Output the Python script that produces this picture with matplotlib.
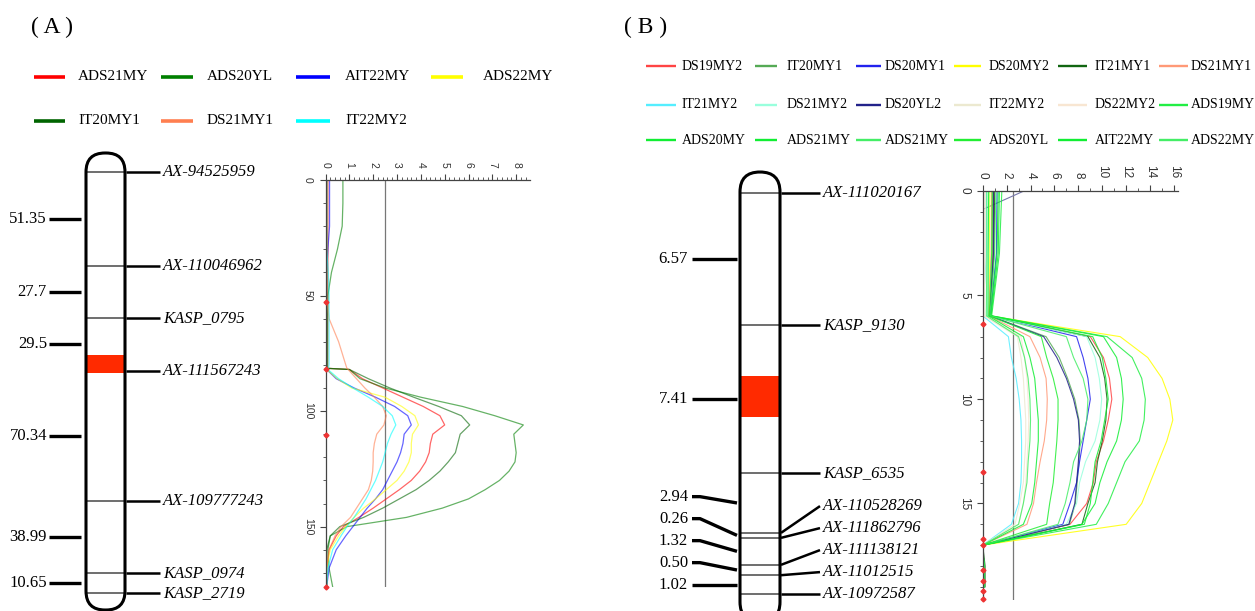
import matplotlib
matplotlib.use("Agg")
import matplotlib.pyplot as plt
from matplotlib.patches import FancyBboxPatch, Rectangle
from matplotlib.ticker import MultipleLocator

# ======================= DATA =======================
# ---- Panel A : linkage map ----
A_markers = ["AX-94525959", "AX-110046962", "KASP_0795", "AX-111567243",
             "AX-109777243", "KASP_0974", "KASP_2719"]
A_marker_pos = [4.2, 24.7, 36.1, 47.7, 76.1, 91.9, 96.3]      # relative position along group (0-100)
A_intervals = ["51.35", "27.7", "29.5", "70.34", "38.99", "10.65"]
A_qtl = [44.2, 48.1]

# ---- Panel A : LOD profiles ----
A_traits = ["ADS21MY", "ADS20YL", "AIT22MY", "ADS22MY", "IT20MY1", "DS21MY1", "IT22MY2"]
A_colors = ["#ff0000", "#008000", "#0000ff", "#ffff00", "#006400", "#ff7f50", "#00ffff"]
A_lod_pos = [0, 10, 20, 30, 40, 50, 60, 70, 80, 81.5, 82, 86, 90, 94, 98, 102, 106, 110,
             114, 118, 122, 126, 130, 134, 138, 142, 146, 150, 154, 160, 168, 176]
A_ADS21MY = [0.1, 0.1, 0.1, 0.1, 0.1, 0.1, 0.1, 0.1, 0.1, 0.1, 1.0, 1.55, 2.4, 3.25, 4.1, 4.8,
             5.0, 4.5, 4.4, 4.35, 4.2, 3.95, 3.6, 3.1, 2.55, 2.0, 1.4, 0.75, 0.45, 0.15, 0.05, 0.05]
A_ADS20YL = [0.73, 0.73, 0.7, 0.5, 0.25, 0.1, 0.08, 0.08, 0.08, 0.08, 1.0, 1.45, 2.5, 4.0, 5.75,
             7.1, 8.3, 7.9, 7.95, 8.0, 7.95, 7.7, 7.3, 6.7, 6.0, 4.9, 3.4, 0.9, 0.2, 0.1, 0.15, 0.3]
A_AIT22MY = [0.17, 0.17, 0.17, 0.1, 0.05, 0.05, 0.05, 0.05, 0.05, 0.05, 0.05, 0.45, 1.2, 2.1,
             2.9, 3.45, 3.6, 3.3, 3.25, 3.15, 3.0, 2.8, 2.6, 2.4, 2.1, 1.75, 1.45, 1.15, 0.85,
             0.45, 0.15, 0.05]
A_ADS22MY = [0.05, 0.05, 0.05, 0.05, 0.05, 0.05, 0.05, 0.05, 0.05, 0.05, 0.05, 0.5, 1.1, 2.5,
             3.2, 3.75, 3.9, 3.65, 3.6, 3.6, 3.5, 3.3, 3.0, 2.55, 2.1, 1.6, 1.2, 0.85, 0.55,
             0.2, 0.05, 0.05]
A_IT20MY1 = [0.05, 0.05, 0.05, 0.05, 0.05, 0.05, 0.05, 0.05, 0.05, 0.05, 1.0, 1.8, 2.7, 3.7,
             4.75, 5.7, 6.05, 5.65, 5.55, 5.45, 5.15, 4.8, 4.35, 3.8, 3.1, 2.4, 1.6, 0.6, 0.2,
             0.05, 0.05, 0.05]
A_DS21MY1 = [0.05, 0.05, 0.05, 0.05, 0.05, 0.05, 0.15, 0.55, 0.85, 0.9, 0.95, 1.3, 1.65, 2.05,
             2.4, 2.55, 2.45, 2.15, 2.05, 2.0, 2.0, 1.98, 1.92, 1.8, 1.55, 1.3, 1.05, 0.65, 0.4,
             0.15, 0.05, 0.05]
A_IT22MY2 = [0.05, 0.05, 0.05, 0.05, 0.12, 0.15, 0.15, 0.15, 0.15, 0.12, 0.1, 0.55, 1.15, 1.8,
             2.4, 2.8, 2.95, 2.75, 2.6, 2.5, 2.4, 2.25, 2.1, 1.9, 1.7, 1.45, 1.2, 0.9, 0.65,
             0.3, 0.1, 0.05]
A_threshold = 2.5
A_map_markers = [53, 82, 110.5, 176]
A_lod_ticks = [0, 1, 2, 3, 4, 5, 6, 7, 8]
A_pos_ticks = [0, 50, 100, 150]

# ---- Panel B : linkage map ----
B_markers = ["AX-111020167", "KASP_9130", "KASP_6535", "AX-110528269", "AX-111862796",
             "AX-111138121", "AX-11012515", "AX-10972587"]
B_marker_pos = [4.7, 34.0, 66.9, 80.2, 81.3, 87.3, 89.6, 93.8]
B_intervals = ["6.57", "7.41", "2.94", "0.26", "1.32", "0.50", "1.02"]
B_qtl = [45.3, 54.4]

# ---- Panel B : LOD profiles ----
B_traits = ["DS19MY2", "IT20MY1", "DS20MY1", "DS20MY2", "IT21MY1", "DS21MY1",
            "IT21MY2", "DS21MY2", "DS20YL2", "IT22MY2", "DS22MY2", "ADS19MY",
            "ADS20MY", "ADS21MY", "ADS21MY", "ADS20YL", "AIT22MY", "ADS22MY"]
B_colors = ["#ff4444", "#55aa55", "#2222ee", "#ffff00", "#116611", "#ff9977",
            "#55eeff", "#99ffdd", "#22228a", "#ece9d0", "#f8e6d2", "#22ee44",
            "#11ee33", "#11ee33", "#44ee66", "#22ee33", "#11ee33", "#44ee66"]
B_lod_pos = [0, 3, 6, 7, 8, 9, 10, 11, 12, 13, 14, 15, 16, 17, 18, 19]
B_DS19MY2 = [0.9, 0.85, 0.6, 9.0, 10.1, 10.6, 10.8, 10.5, 10.1, 9.5, 9.25, 8.7, 7.3, 0.0, 0.1, 0.1]
B_IT20MY1 = [0.8, 0.8, 0.6, 5.3, 6.4, 7.1, 7.7, 8.05, 8.15, 8.05, 7.9, 7.75, 7.25, 0.0, 0.05, 0.05]
B_DS20MY1 = [1.2, 1.15, 0.65, 7.85, 8.4, 8.8, 9.0, 8.7, 8.4, 8.1, 7.85, 7.3, 6.7, 0.0, 0.1, 0.1]
B_DS20MY2 = [0.6, 0.55, 0.55, 11.5, 13.8, 15.0, 15.65, 15.9, 15.4, 14.7, 14.0, 13.3, 12.0, 0.0, 0.05, 0.05]
B_IT21MY1 = [1.0, 0.95, 0.6, 8.8, 9.8, 10.2, 10.4, 10.3, 10.0, 9.6, 9.4, 8.8, 8.3, 0.0, 0.2, 0.2]
B_DS21MY1 = [0.75, 0.7, 0.5, 3.95, 4.8, 5.3, 5.4, 5.35, 5.15, 4.8, 4.5, 4.25, 3.7, 0.0, 0.05, 0.05]
B_IT21MY2 = [0.3, 0.3, 0.0, 2.15, 2.4, 2.8, 3.05, 3.2, 3.25, 3.25, 3.2, 3.0, 2.4, 0.0, 0.05, 0.05]
B_DS21MY2 = [0.5, 0.5, 0.4, 8.7, 9.4, 9.75, 9.95, 9.8, 9.4, 8.6, 8.1, 7.85, 7.0, 0.0, 0.1, 0.1]
B_DS20YL2 = [0.9, 0.9, 0.6, 5.1, 6.2, 7.0, 7.6, 8.0, 8.1, 8.0, 7.85, 7.7, 7.2, 0.0, 0.1, 0.1]
B_IT22MY2 = [0.2, 0.2, 0.1, 2.9, 3.2, 3.4, 3.5, 3.6, 3.6, 3.5, 3.4, 3.1, 2.7, 0.0, 0.05, 0.05]
B_DS22MY2 = [0.2, 0.2, 0.1, 3.2, 3.5, 3.7, 3.8, 3.85, 3.8, 3.7, 3.6, 3.4, 3.0, 0.0, 0.05, 0.05]
B_ADS19MY = [1.6, 1.4, 0.75, 10.4, 12.5, 13.3, 13.6, 13.5, 13.1, 11.9, 11.2, 10.5, 9.5, 0.0, 0.1, 0.1]
B_ADS20MY = [1.4, 1.3, 0.7, 10.1, 11.2, 11.6, 11.75, 11.6, 11.2, 10.4, 9.8, 9.4, 8.3, 0.0, 0.1, 0.1]
B_ADS21MY_1 = [1.3, 1.2, 0.65, 9.2, 10.0, 10.3, 10.5, 10.2, 9.9, 9.4, 9.2, 9.0, 8.5, 0.0, 0.1, 0.1]
B_ADS21MY_2 = [1.1, 1.0, 0.6, 7.0, 7.6, 8.4, 8.8, 8.7, 8.3, 7.6, 7.3, 6.9, 6.3, 0.0, 0.1, 0.1]
B_ADS20YL = [0.8, 0.75, 0.55, 4.9, 5.35, 5.9, 6.3, 6.3, 6.2, 6.05, 5.9, 5.6, 5.35, 0.0, 0.1, 0.1]
B_AIT22MY = [0.5, 0.45, 0.45, 3.4, 3.95, 4.35, 4.5, 4.65, 4.65, 4.5, 4.35, 4.1, 3.4, 0.0, 0.1, 0.1]
B_ADS22MY = [0.35, 0.35, 0.3, 3.0, 3.5, 3.8, 3.95, 4.0, 3.95, 3.8, 3.7, 3.4, 3.0, 0.0, 0.1, 0.1]
B_trace_lod = [3.5, 0.0]
B_trace_pos = [0.0, 0.9]
B_threshold = 2.5
B_map_markers = [6.4, 13.5, 16.7, 17.0, 18.2, 18.7, 19.2, 19.6]
B_lod_ticks = [0, 2, 4, 6, 8, 10, 12, 14, 16]
B_pos_ticks = [0, 5, 10, 15]

A_series = [A_ADS21MY, A_ADS20YL, A_AIT22MY, A_ADS22MY, A_IT20MY1, A_DS21MY1, A_IT22MY2]
B_series = [B_DS19MY2, B_IT20MY1, B_DS20MY1, B_DS20MY2, B_IT21MY1, B_DS21MY1,
            B_IT21MY2, B_DS21MY2, B_DS20YL2, B_IT22MY2, B_DS22MY2, B_ADS19MY,
            B_ADS20MY, B_ADS21MY_1, B_ADS21MY_2, B_ADS20YL, B_AIT22MY, B_ADS22MY]

# ======================= FIGURE =======================
W, H = 1255, 611
fig = plt.figure(figsize=(W / 100, H / 100), dpi=100)
SERIF = ["Liberation Serif", "DejaVu Serif"]
SANS = ["Liberation Sans", "DejaVu Sans"]


def px_axes(x0, y0, x1, y1):
    ax = fig.add_axes([x0 / W, 1 - y1 / H, (x1 - x0) / W, (y1 - y0) / H])
    ax.patch.set_alpha(0)
    return ax


bg = px_axes(0, 0, W, H)
bg.set_xlim(0, W)
bg.set_ylim(H, 0)
bg.axis("off")

# panel labels
bg.text(52, 27, "( A )", family=SERIF, fontsize=17, ha="center", va="center")
bg.text(646, 27, "( B )", family=SERIF, fontsize=17, ha="center", va="center")


def draw_legend(names, colors, rows_y, line_x, text_x, ncol, fs, lw):
    for i, (n, c) in enumerate(zip(names, colors)):
        r, k = divmod(i, ncol)
        y = rows_y[r]
        bg.plot(line_x[k], [y, y], color=c, lw=lw, solid_capstyle="butt")
        bg.text(text_x[k], y, n, family=SERIF, fontsize=fs, ha="left", va="center")


draw_legend(A_traits, A_colors, [77, 121],
            [(34, 65), (161, 193), (296, 330), (431, 463)], [78, 207, 345, 483], 4, 11, 2.6)
draw_legend(B_traits, B_colors, [66, 105, 140],
            [(646, 676), (755, 777), (856, 881), (954, 981), (1058, 1087), (1159, 1188)],
            [682, 787, 885, 989, 1095, 1191], 6, 10, 1.7)


def spread(vals, gap):
    out = list(vals)
    for i in range(len(out) - 2, -1, -1):
        out[i] = min(out[i], out[i + 1] - gap)
    return out


def draw_chromosome(box, pill, names, pos, intervals, qtl, tick_x, lab_x, con_x, name_x,
                    gap_px, radius):
    x0b, y0b, x1b, y1b = box
    ax = px_axes(x0b, y0b, x1b, y1b)
    ax.set_xlim(0, x1b - x0b)
    ax.set_ylim(100, 0)
    ax.axis("off")
    upp = 100.0 / (y1b - y0b)      # map units per pixel
    px0, px1 = pill[0] - x0b, pill[1] - x0b
    style = f"round,pad=0,rounding_size={radius}"
    ax.add_patch(FancyBboxPatch((px0, 0), px1 - px0, 100, boxstyle=style, mutation_aspect=upp,
                                fc="white", ec="none", zorder=1, clip_on=False))
    for p in pos:
        ax.plot([px0, px1], [p, p], color="#555555", lw=1.2, zorder=1.5,
                solid_capstyle="butt", clip_on=False)
    ax.add_patch(Rectangle((px0, qtl[0]), px1 - px0, qtl[1] - qtl[0], fc="#ff2a00",
                           ec="none", zorder=2, clip_on=False))
    ax.add_patch(FancyBboxPatch((px0, 0), px1 - px0, 100, boxstyle=style, mutation_aspect=upp,
                                fc="none", ec="black", lw=2.2, zorder=3, clip_on=False))
    gap = gap_px * upp
    # right: marker names
    lab = spread(pos, gap)
    cx = con_x - x0b
    for n, p, ly in zip(names, pos, lab):
        ax.plot([px1 + 1, cx], [p, ly], color="black", lw=1.8, zorder=2,
                solid_capstyle="butt", clip_on=False)
        ax.text(name_x - x0b, ly, n, family=SERIF, style="italic", fontsize=12,
                ha="left", va="center", clip_on=False)
    # left: interval distances
    mids = [(a + b) / 2 for a, b in zip(pos[:-1], pos[1:])]
    ilab = spread(mids, gap)
    tx0, tx1 = tick_x[0] - x0b, tick_x[1] - x0b
    for t, m, ly in zip(intervals, mids, ilab):
        if abs(ly - m) < 1e-9:
            ax.plot([tx0, tx1], [m, m], color="black", lw=2.4, solid_capstyle="butt",
                    clip_on=False)
        else:
            ax.plot([tx0, tx0 + 8, tx1], [ly, ly, m], color="black", lw=2.4,
                    solid_capstyle="butt", clip_on=False)
        ax.text(lab_x - x0b, ly, t, family=SERIF, fontsize=12, ha="right", va="center",
                clip_on=False)
    return ax


draw_chromosome((0, 153, 300, 610), (86, 125), A_markers, A_marker_pos, A_intervals, A_qtl,
                (49, 81), 47, 160, 163, 20, 19)
draw_chromosome((600, 172, 940, 622), (740, 780), B_markers, B_marker_pos, B_intervals, B_qtl,
                (692, 737), 688, 820, 823, 22, 20)


def lod_axes(box, xmax, ymax, xt, yt, xminor, yminor, fs, pad):
    ax = px_axes(*box)
    ax.set_xlim(0, xmax)
    ax.set_ylim(ymax, 0)
    ax.xaxis.tick_top()
    for s in ("right", "bottom"):
        ax.spines[s].set_visible(False)
    for s in ("left", "top"):
        ax.spines[s].set_color("#444444")
        ax.spines[s].set_linewidth(0.9)
    ax.set_xticks(xt)
    ax.set_yticks(yt)
    ax.xaxis.set_minor_locator(MultipleLocator(xminor))
    ax.yaxis.set_minor_locator(MultipleLocator(yminor))
    ax.tick_params(which="major", length=4, width=0.8, color="#444444", labelsize=fs,
                   labelcolor="#333333", pad=pad)
    ax.tick_params(which="minor", length=2, width=0.6, color="#444444")
    ax.tick_params(axis="x", labelrotation=-90)
    ax.tick_params(axis="y", labelrotation=-90)
    for lbl in ax.get_yticklabels():
        lbl.set_va("center")
        lbl.set_family(SANS)
    for lbl in ax.get_xticklabels():
        lbl.set_family(SANS)
    return ax


axA = lod_axes((325.5, 180, 530, 586.7), 8.58, 176, A_lod_ticks, A_pos_ticks, 0.2, 10, 7.5, 5)
axA.axvline(A_threshold, color="#777777", lw=0.9, zorder=1)
for vals, c in zip(A_series, A_colors):
    axA.plot(vals, A_lod_pos, color=c, lw=0.9, alpha=0.6, zorder=2)
axA.plot([0] * len(A_map_markers), A_map_markers, "D", color="#ee3333", ms=2.5,
         clip_on=False, zorder=4)

axB = lod_axes((982.7, 190.7, 1177.6, 600), 16.3, 19.63, B_lod_ticks, B_pos_ticks, 1, 1, 8.5, 5)
axB.axvline(B_threshold, color="#777777", lw=0.9, zorder=1)
axB.plot(B_trace_lod, B_trace_pos, color="#7777aa", lw=0.8, zorder=2)
for vals, c in zip(B_series, B_colors):
    axB.plot(vals, B_lod_pos, color=c, lw=0.8, alpha=0.85, zorder=2)
axB.plot([0] * len(B_map_markers), B_map_markers, "D", color="#ee3333", ms=2.5,
         clip_on=False, zorder=4)

fig.savefig("out.png", dpi=100)
